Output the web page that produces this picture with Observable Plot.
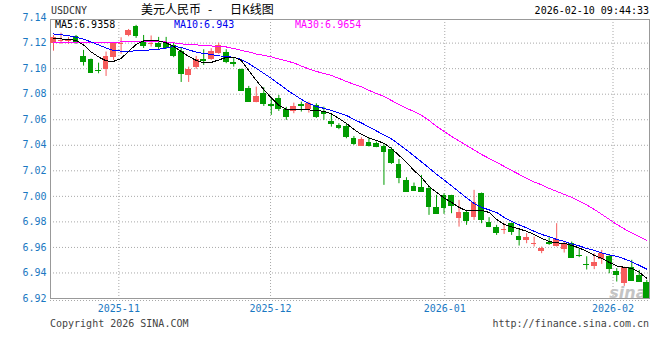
<!DOCTYPE html>
<html><head><meta charset="utf-8">
<script src="https://cdn.jsdelivr.net/npm/d3@7"></script>
<script src="https://cdn.jsdelivr.net/npm/@observablehq/plot@0.6"></script>
<style>
body{margin:0;background:#fff;}
#wrap{position:relative;width:660px;height:360px;overflow:hidden;font-family:"DejaVu Sans Mono",monospace;font-size:10px;line-height:10px;color:#000;}
.t{position:absolute;white-space:pre;}
.cjk{font-family:"Noto Sans CJK SC",sans-serif;font-size:12px;line-height:12px;}
</style></head><body>
<div id="wrap">
<div id="chart" style="position:absolute;left:0;top:0"></div>
<div class="t" style="left:51px;top:6px;color:#333">USDCNY</div>
<div class="t cjk" style="left:141px;top:3px">美元人民币</div>
<div class="t cjk" style="left:208px;top:3px">-</div>
<div class="t cjk" style="left:230px;top:3px">日K线图</div>
<div class="t" style="right:11px;top:6px">2026-02-10 09:44:33</div>
<div class="t" id="lg5" style="left:55px;top:19.5px;color:#000"></div>
<div class="t" id="lg10" style="left:174px;top:19.5px;color:#0000ee"></div>
<div class="t" id="lg30" style="left:295px;top:19.5px;color:#ff00ff"></div>
<div class="t" style="left:50px;top:319px;color:#444">Copyright 2026 SINA.COM</div>
<div class="t" style="right:11px;top:319px;color:#444">http://finance.sina.com.cn</div>
</div>
<script>
const open = [7.1195,7.1219,7.1215,7.1252,7.1096,7.1072,7.0988,7.0992,7.1088,7.1190,
7.1260,7.1331,7.1216,7.1196,7.1195,7.1205,7.1182,7.1135,7.0947,7.1006,
7.1072,7.1070,7.1122,7.1125,7.1045,7.0994,7.0848,7.0736,7.0809,7.0720,
7.0769,7.0681,7.0665,7.0720,7.0681,7.0712,7.0654,7.0587,7.0556,7.0548,
7.0456,7.0391,7.0425,7.0412,7.0391,7.0365,7.0250,7.0125,7.0078,7.0068,
7.0060,6.9916,7.0008,7.0008,6.9830,6.9877,6.9838,7.0021,6.9798,6.9755,
6.9737,6.9786,6.9687,6.9655,6.9621,6.9569,6.9642,6.9610,6.9585,6.9634,
6.9540,6.9470,6.9452,6.9504,6.9526,6.9410,6.9316,6.9441,6.9381,6.9329];
const high = [7.1260,7.1278,7.1245,7.1260,7.1143,7.1075,7.1043,7.1130,7.1205,7.1242,
7.1307,7.1339,7.1260,7.1256,7.1245,7.1245,7.1200,7.1158,7.1012,7.1096,
7.1148,7.1156,7.1200,7.1148,7.1078,7.0997,7.0861,7.0855,7.0851,7.0765,
7.0790,7.0697,7.0730,7.0738,7.0738,7.0725,7.0699,7.0634,7.0569,7.0563,
7.0469,7.0459,7.0459,7.0425,7.0404,7.0381,7.0289,7.0146,7.0104,7.0164,
7.0072,7.0008,7.0021,7.0008,6.9968,6.9890,7.0047,7.0026,6.9833,6.9773,
6.9786,6.9791,6.9739,6.9708,6.9681,6.9603,6.9676,6.9786,6.9647,6.9642,
6.9590,6.9527,6.9551,6.9577,6.9538,6.9434,6.9446,6.9499,6.9420,6.9342];
const low = [7.1137,7.1190,7.1190,7.1190,7.1020,7.0963,7.0960,7.0939,7.1065,7.1112,
7.1250,7.1237,7.1158,7.1169,7.1143,7.1151,7.1086,7.0892,7.0892,7.0994,
7.1025,7.1065,7.1112,7.1039,7.1012,7.0827,7.0736,7.0733,7.0704,7.0634,
7.0665,7.0595,7.0647,7.0660,7.0652,7.0610,7.0595,7.0542,7.0522,7.0451,
7.0399,7.0391,7.0386,7.0381,7.0086,7.0250,7.0099,7.0035,7.0041,7.0038,
6.9851,6.9859,6.9859,6.9864,6.9759,6.9773,6.9812,6.9786,6.9755,6.9694,
6.9702,6.9694,6.9611,6.9629,6.9603,6.9551,6.9616,6.9603,6.9556,6.9520,
6.9520,6.9423,6.9426,6.9467,6.9394,6.9329,6.9295,6.9334,6.9326,6.9200];
const close = [7.1247,7.1224,7.1220,7.1208,7.1059,7.0973,7.0983,7.1096,7.1202,7.1200,
7.1299,7.1256,7.1178,7.1200,7.1174,7.1166,7.1104,7.0959,7.0992,7.1072,
7.1067,7.1135,7.1182,7.1059,7.1041,7.0830,7.0744,7.0783,7.0730,7.0715,
7.0691,7.0626,7.0704,7.0715,7.0725,7.0626,7.0649,7.0569,7.0538,7.0469,
7.0417,7.0444,7.0399,7.0393,7.0352,7.0268,7.0146,7.0041,7.0047,7.0041,
6.9921,6.9869,6.9916,6.9925,6.9877,6.9812,6.9955,6.9817,6.9765,6.9720,
6.9741,6.9728,6.9663,6.9681,6.9634,6.9595,6.9629,6.9663,6.9624,6.9524,
6.9535,6.9465,6.9483,6.9556,6.9432,6.9387,6.9446,6.9342,6.9336,6.9206];
const ma5 = [7.1237,7.1233,7.1229,7.1221,7.1186,7.1131,7.1092,7.1061,7.1057,7.1080,
7.1135,7.1190,7.1217,7.1217,7.1217,7.1202,7.1174,7.1135,7.1096,7.1065,
7.1045,7.1049,7.1068,7.1088,7.1090,7.1065,7.0986,7.0908,7.0837,7.0771,
7.0712,7.0681,7.0677,7.0677,7.0677,7.0673,7.0665,7.0646,7.0610,7.0571,
7.0524,7.0485,7.0458,7.0438,7.0415,7.0375,7.0321,7.0266,7.0203,7.0148,
7.0078,7.0031,6.9988,6.9953,6.9914,6.9886,6.9890,6.9890,6.9874,6.9820,
6.9780,6.9761,6.9745,6.9726,6.9702,6.9671,6.9647,6.9636,6.9632,6.9616,
6.9596,6.9569,6.9538,6.9514,6.9483,6.9455,6.9444,6.9436,6.9405,6.9358];
const ma10 = [7.1272,7.1266,7.1258,7.1246,7.1231,7.1209,7.1186,7.1162,7.1143,7.1137,
7.1137,7.1139,7.1143,7.1147,7.1152,7.1162,7.1174,7.1166,7.1147,7.1130,
7.1119,7.1112,7.1100,7.1096,7.1088,7.1072,7.1041,7.1002,7.0963,7.0924,
7.0881,7.0837,7.0798,7.0759,7.0728,7.0704,7.0689,7.0673,7.0653,7.0634,
7.0603,7.0575,7.0544,7.0512,7.0481,7.0450,7.0407,7.0364,7.0317,7.0270,
7.0223,7.0172,7.0129,7.0082,7.0035,6.9988,6.9945,6.9914,6.9894,6.9874,
6.9835,6.9804,6.9777,6.9753,6.9726,6.9702,6.9683,6.9663,6.9647,6.9628,
6.9612,6.9592,6.9577,6.9557,6.9542,6.9530,6.9510,6.9487,6.9459,6.943];
const ma30 = [7.1207,7.1207,7.1207,7.1207,7.1205,7.1205,7.1205,7.1205,7.1207,7.1209,
7.1213,7.1216,7.1216,7.1216,7.1213,7.1209,7.1202,7.1194,7.1190,7.1186,
7.1182,7.1178,7.1174,7.1170,7.1158,7.1143,7.1131,7.1115,7.1104,7.1092,
7.1076,7.1061,7.1045,7.1021,7.0998,7.0978,7.0963,7.0947,7.0924,7.0900,
7.0877,7.0857,7.0830,7.0806,7.0783,7.0751,7.0720,7.0689,7.0665,7.0634,
7.0595,7.0548,7.0509,7.0469,7.0434,7.0399,7.0364,7.0328,7.0297,7.0266,
7.0235,7.0203,7.0172,7.0141,7.0113,7.0090,7.0062,7.0039,7.0015,6.9992,
6.9964,6.9933,6.9898,6.9859,6.9820,6.9780,6.9745,6.9714,6.9683,6.9654];
const yTicks = [6.92,6.94,6.96,6.98,7.00,7.02,7.04,7.06,7.08,7.10,7.12,7.14];
const monthLabels = ["2025-11","2025-12","2026-01","2026-02"];
const monthPos = [8.7,28.9,52.1,74.5];

const UP = "#f65c5c", DOWN = "#009c00", GRID = "#a8a8a8", AXIS = "#1a78c2";
const bars = open.map((o,i)=>({i, open:o, high:high[i], low:low[i], close:close[i],
  ma5:ma5[i], ma10:ma10[i], ma30:ma30[i], col: close[i] >= o ? UP : DOWN}));
const hw = 0.38;

const chart = Plot.plot({
  width: 660, height: 360,
  marginLeft: 50, marginRight: 11, marginTop: 19, marginBottom: 62,
  style: {fontFamily: "DejaVu Sans Mono", fontSize: "10px", background: "transparent"},
  x: {type: "linear", domain: [-0.4, 79.36]},
  y: {type: "linear", domain: [6.92, 7.1385]},
  marks: [
    Plot.ruleY(yTicks.filter(v => v > 6.93 && v < 7.13), {stroke: GRID, strokeDasharray: "1,2"}),
    Plot.ruleY([yTicks[0]], {stroke: GRID, strokeDasharray: "1,2", dy: 2}),
    Plot.ruleX(monthPos, {stroke: GRID, strokeDasharray: "1,2"}),
    Plot.frame({stroke: "#999"}),
    Plot.axisY({ticks: yTicks, tickSize: 0, tickPadding: 4, tickFormat: d3.format(".2f"), color: AXIS, label: null}),
    Plot.axisX({ticks: monthPos, tickSize: 0, tickPadding: 6, tickFormat: d => monthLabels[monthPos.indexOf(d)], color: AXIS, label: null}),
    Plot.text(["sina"], {frameAnchor: "bottom-right", dx: -3, dy: -1, fill: "#c4c4c4", fontSize: 16, fontWeight: "bold", fontStyle: "italic", fontFamily: "DejaVu Sans", lineAnchor: "bottom", textAnchor: "end"}),
    Plot.ruleX(bars, {x: "i", y1: "low", y2: "high", stroke: "col"}),
    Plot.rect(bars, {x1: d => d.i - hw, x2: d => d.i + hw, y1: "open", y2: "close", fill: "col", shapeRendering: "crispEdges"}),
    Plot.ruleY(bars, {y: "close", x1: d => d.i - hw, x2: d => d.i + hw, stroke: "col", shapeRendering: "crispEdges"}),
    Plot.line(bars, {x: "i", y: "ma30", stroke: "#ff00ff", strokeWidth: 1, shapeRendering: "crispEdges"}),
    Plot.line(bars, {x: "i", y: "ma10", stroke: "#0000ff", strokeWidth: 1, shapeRendering: "crispEdges"}),
    Plot.line(bars, {x: "i", y: "ma5", stroke: "#000", strokeWidth: 1, shapeRendering: "crispEdges"})
  ]
});
document.getElementById("chart").appendChild(chart);
document.getElementById("lg5").textContent = "MA5:" + ma5[ma5.length-1];
document.getElementById("lg10").textContent = "MA10:" + ma10[ma10.length-1];
document.getElementById("lg30").textContent = "MA30:" + ma30[ma30.length-1];
</script>
</body></html>
